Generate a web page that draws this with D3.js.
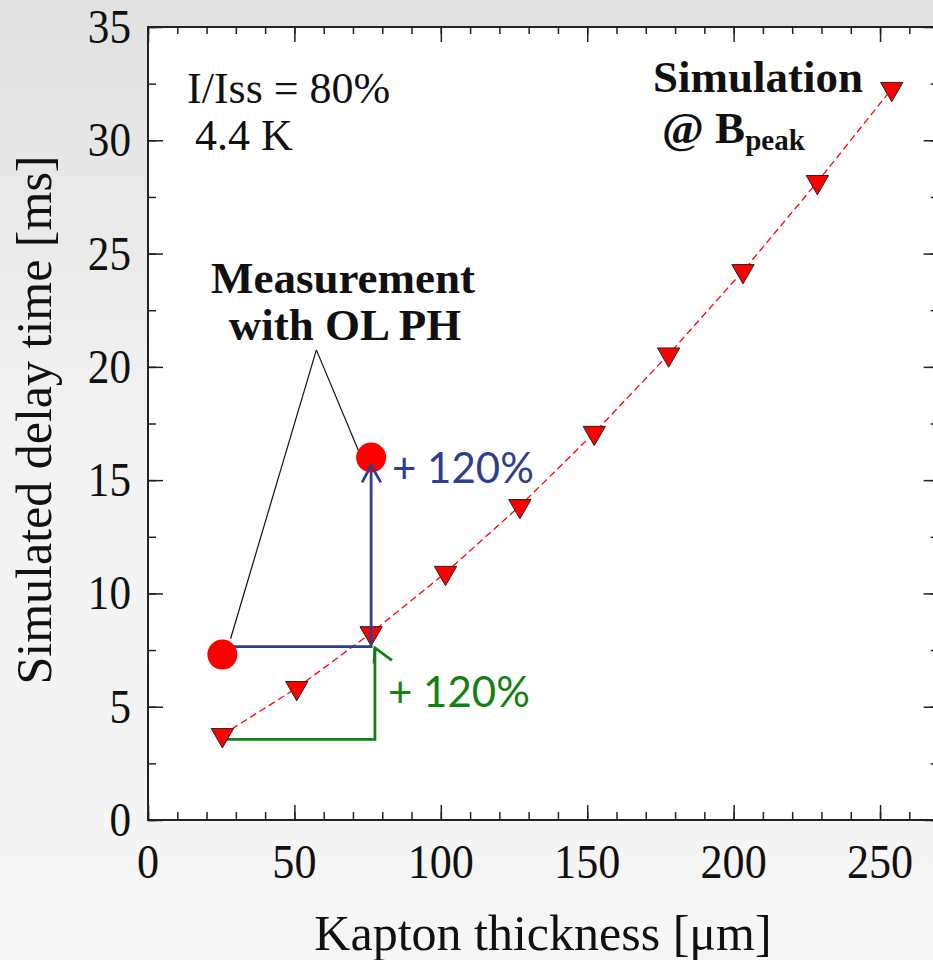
<!DOCTYPE html>
<html>
<head>
<meta charset="utf-8">
<script src="https://cdn.jsdelivr.net/npm/d3@7"></script>
<style>
  html, body { margin: 0; padding: 0; }
  body { width: 933px; height: 960px; overflow: hidden; }
</style>
</head>
<body>
<div id="chart"></div>
<script>
"use strict";

// kapton thickness in um (multiples of 1 mil) and simulated delay in ms
var thickness = [25.4, 50.8, 76.2, 101.6, 127, 152.4, 177.8, 203.2, 228.6, 254];
var delay = [3.75, 5.83, 8.25, 10.91, 13.86, 17.09, 20.55, 24.23, 28.16, 32.27];

// measurement with OL PH
var meas_x = [25.4, 76.2];
var meas_y = [7.3, 16.0];

var x_ticks = [0, 50, 100, 150, 200, 250];
var y_ticks = [0, 5, 10, 15, 20, 25, 30, 35];

var width = 933;
var height = 960;

var serif = "'Liberation Serif', 'Times New Roman', serif";

var svg = d3.select('#chart').append('svg')
    .attr('width', width)
    .attr('height', height);

var defs = svg.append('defs');
var grad = defs.append('linearGradient')
    .attr('id', 'bg')
    .attr('x1', 0).attr('y1', 0).attr('x2', 0).attr('y2', 1);
grad.append('stop').attr('offset', '0%').attr('stop-color', '#e1e1e1');
grad.append('stop').attr('offset', '45%').attr('stop-color', '#f2f2f2');
grad.append('stop').attr('offset', '100%').attr('stop-color', '#f6f6f6');

svg.append('rect')
    .attr('width', width)
    .attr('height', height)
    .attr('fill', 'url(#bg)');

var x = d3.scaleLinear().domain([0, 270]).range([148, 938.6]);
var y = d3.scaleLinear().domain([0, 35]).range([820, 27]);

// plot area
svg.append('rect')
    .attr('x', x(0))
    .attr('y', y(35))
    .attr('width', x(270) - x(0))
    .attr('height', y(0) - y(35))
    .attr('fill', '#fff');

// ticks, all pointing inwards
function tick_lines( axis, ticks, len ) {
    return axis.tickValues( ticks ).tickSize( len ).tickFormat('');
}

var x_minor = d3.range(0, 271, 10);
var y_minor = d3.range(0, 35.1, 2.5);

var g_axes = svg.append('g').attr('class', 'axes');

g_axes.append('g').attr('transform', 'translate(0,' + y(0) + ')')
    .call( tick_lines( d3.axisTop( x ), x_minor, 8 ) );
g_axes.append('g').attr('transform', 'translate(0,' + y(0) + ')')
    .call( tick_lines( d3.axisTop( x ), x_ticks, 15 ) );
g_axes.append('g').attr('transform', 'translate(0,' + y(35) + ')')
    .call( tick_lines( d3.axisBottom( x ), x_minor, 7 ) );
g_axes.append('g').attr('transform', 'translate(0,' + y(35) + ')')
    .call( tick_lines( d3.axisBottom( x ), x_ticks, 15 ) );
g_axes.append('g').attr('transform', 'translate(' + x(0) + ',0)')
    .call( tick_lines( d3.axisRight( y ), y_minor, 8 ) );
g_axes.append('g').attr('transform', 'translate(' + x(0) + ',0)')
    .call( tick_lines( d3.axisRight( y ), y_ticks, 15 ) );
g_axes.append('g').attr('transform', 'translate(' + x(270) + ',0)')
    .call( tick_lines( d3.axisLeft( y ), y_minor, 8 ) );
g_axes.append('g').attr('transform', 'translate(' + x(270) + ',0)')
    .call( tick_lines( d3.axisLeft( y ), y_ticks, 15 ) );

g_axes.selectAll('.domain').remove();
g_axes.selectAll('.tick line')
    .attr('stroke', '#222')
    .attr('stroke-width', 1.5);

// frame
svg.append('rect')
    .attr('x', x(0))
    .attr('y', y(35))
    .attr('width', x(270) - x(0))
    .attr('height', y(0) - y(35))
    .attr('fill', 'none')
    .attr('stroke', '#222')
    .attr('stroke-width', 2);

// tick labels, the original font is a bit taller than wide
svg.append('g').selectAll('text')
    .data( x_ticks )
    .enter().append('text')
    .attr('transform', function(d) { return 'translate(' + x(d) + ',878) scale(0.96,1.06)'; })
    .attr('text-anchor', 'middle')
    .attr('font-family', serif)
    .attr('font-size', 46)
    .attr('fill', '#111')
    .text(function(d) { return d; });

svg.append('g').selectAll('text')
    .data( y_ticks )
    .enter().append('text')
    .attr('transform', function(d) { return 'translate(131,' + (y(d) + 16) + ') scale(0.96,1.06)'; })
    .attr('text-anchor', 'end')
    .attr('font-family', serif)
    .attr('font-size', 45)
    .attr('fill', '#111')
    .text(function(d) { return d; });

// axis titles
svg.append('text')
    .attr('x', 543)
    .attr('y', 950)
    .attr('text-anchor', 'middle')
    .attr('font-family', serif)
    .attr('font-size', 50)
    .attr('fill', '#111')
    .text('Kapton thickness [μm]');

svg.append('text')
    .attr('transform', 'translate(51,420) rotate(-90)')
    .attr('text-anchor', 'middle')
    .attr('font-family', serif)
    .attr('font-size', 50)
    .attr('fill', '#111')
    .text('Simulated delay time [ms]');

// simulation line + markers
var pts = thickness.map(function(d, i) { return [d, delay[i]]; });

svg.append('path')
    .datum( pts )
    .attr('fill', 'none')
    .attr('stroke', '#ff0000')
    .attr('stroke-width', 1.3)
    .attr('stroke-dasharray', '7,4')
    .attr('d', d3.line()
        .x(function(d) { return x(d[0]); })
        .y(function(d) { return y(d[1]); }));

// annotation leader lines (drawn under the circles)
var apex = [57.5, 20.75];
svg.append('g').selectAll('line')
    .data([[28.2, 8.0], [71.9, 16.3]])
    .enter().append('line')
    .attr('x1', x(apex[0]))
    .attr('y1', y(apex[1]))
    .attr('x2', function(d) { return x(d[0]); })
    .attr('y2', function(d) { return y(d[1]); })
    .attr('stroke', '#111')
    .attr('stroke-width', 1.2);

// arrows
var blue = '#2f3f8c';
var green = '#148014';

var blue_path = [[25.4, 7.65], [76.2, 7.65], [76.2, 15.65]];
var green_path = [[25.4, 3.56], [77.5, 3.56], [77.5, 7.6]];
var arrow_line = d3.line()
    .x(function(d) { return x(d[0]); })
    .y(function(d) { return y(d[1]); });

svg.append('path')
    .attr('d', arrow_line( green_path ))
    .attr('fill', 'none')
    .attr('stroke', green)
    .attr('stroke-width', 2.8);
svg.append('path')
    .attr('d', arrow_line( [[77.2, 6.9], [77.5, 7.6], [83.3, 7.05]] ))
    .attr('fill', 'none')
    .attr('stroke', green)
    .attr('stroke-width', 2.8);

svg.append('g').selectAll('path')
    .data( pts )
    .enter().append('path')
    .attr('transform', function(d) { return 'translate(' + x(d[0]) + ',' + y(d[1]) + ') rotate(180)'; })
    .attr('d', d3.symbol().type( d3.symbolTriangle ).size( 215 ))
    .attr('fill', '#ff0000')
    .attr('stroke', '#222')
    .attr('stroke-width', 1);

svg.append('path')
    .attr('d', arrow_line( blue_path ))
    .attr('fill', 'none')
    .attr('stroke', blue)
    .attr('stroke-width', 2.8);

svg.append('g').selectAll('circle')
    .data( meas_x )
    .enter().append('circle')
    .attr('cx', function(d) { return x(d); })
    .attr('cy', function(d, i) { return y(meas_y[i]); })
    .attr('r', 15)
    .attr('fill', '#ff0000');

svg.append('path')
    .attr('d', arrow_line( [[73.1, 14.9], [76.2, 15.65], [79.5, 14.9]] ))
    .attr('fill', 'none')
    .attr('stroke', blue)
    .attr('stroke-width', 2.8);

// text annotations
svg.append('text')
    .attr('x', 392).attr('y', 483)
    .attr('font-family', 'Lato, sans-serif')
    .attr('font-size', 42)
    .attr('fill', blue)
    .text('+ 120%');

svg.append('text')
    .attr('x', 388).attr('y', 707)
    .attr('font-family', 'Lato, sans-serif')
    .attr('font-size', 42)
    .attr('fill', green)
    .text('+ 120%');

svg.append('text')
    .attr('x', 187).attr('y', 103)
    .attr('font-family', serif)
    .attr('font-size', 44)
    .attr('fill', '#111')
    .text('I/Iss = 80%');

svg.append('text')
    .attr('x', 195).attr('y', 150)
    .attr('font-family', serif)
    .attr('font-size', 44)
    .attr('fill', '#111')
    .text('4.4 K');

var bold = function( sel ) {
    return sel.attr('font-family', serif)
        .attr('font-weight', 'bold')
        .attr('fill', '#111');
};

svg.append('text')
    .attr('x', 343).attr('y', 293)
    .attr('text-anchor', 'middle')
    .attr('font-size', 45)
    .call( bold )
    .text('Measurement');

svg.append('text')
    .attr('x', 345).attr('y', 340)
    .attr('text-anchor', 'middle')
    .attr('font-size', 45)
    .call( bold )
    .text('with OL PH');

svg.append('text')
    .attr('x', 653).attr('y', 92)
    .attr('font-size', 45)
    .call( bold )
    .text('Simulation');

var bpeak = svg.append('text')
    .attr('x', 662).attr('y', 143)
    .attr('font-size', 45)
    .call( bold );
bpeak.append('tspan').text('@ B');
bpeak.append('tspan')
    .attr('font-size', 29)
    .attr('dy', 7)
    .text('peak');
</script>
</body>
</html>
